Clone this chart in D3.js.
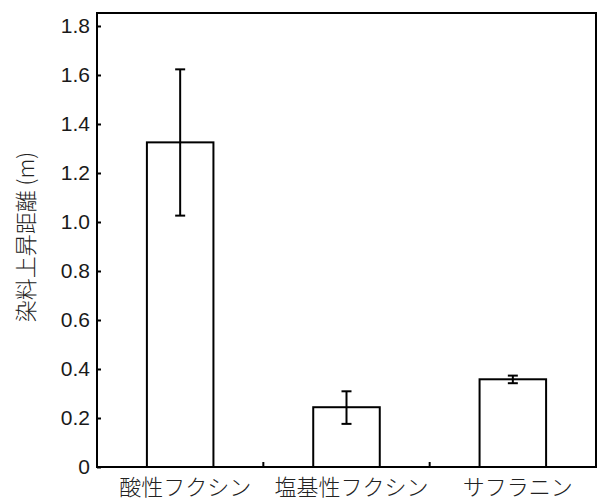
<!DOCTYPE html>
<html><head><meta charset="utf-8">
<script src="https://cdn.jsdelivr.net/npm/d3@7"></script>
<style>body{margin:0;background:#fff}svg{display:block}</style>
</head><body>
<script>
const categories = ["酸性フクシン", "塩基性フクシン", "サフラニン"];
const values = [1.325, 0.244, 0.358];
const errLow = [1.026, 0.176, 0.342];
const errHigh = [1.623, 0.309, 0.373];
const yTicks = [0, 0.2, 0.4, 0.6, 0.8, 1.0, 1.2, 1.4, 1.6, 1.8];
const yTickLabels = ["0", "0.2", "0.4", "0.6", "0.8", "1.0", "1.2", "1.4", "1.6", "1.8"];
const yLabel = "染料上昇距離 (m)";

const W = 601, H = 500;
const m = {left: 97, top: 13, right: 5, bottom: 33};
const svg = d3.select("body").append("svg").attr("width", W).attr("height", H);
const x = d3.scaleBand().domain(categories).range([m.left, W - m.right]).padding(0);
const y = d3.scaleLinear().domain([0, 1.853]).range([H - m.bottom, m.top]);
const bw = x.bandwidth() * 0.4;
const font = "Liberation Sans, Arial, sans-serif";

// bars
svg.selectAll("rect.bar").data(categories).join("rect")
  .attr("x", d => x(d) + x.bandwidth()/2 - bw/2)
  .attr("y", (d,i) => y(values[i]))
  .attr("width", bw)
  .attr("height", (d,i) => y(0) - y(values[i]))
  .attr("fill", "#fff").attr("stroke", "#000").attr("stroke-width", 2);

// error bars
const eb = svg.selectAll("g.err").data(categories).join("g");
eb.append("line")
  .attr("x1", d => x(d) + x.bandwidth()/2).attr("x2", d => x(d) + x.bandwidth()/2)
  .attr("y1", (d,i) => y(errLow[i])).attr("y2", (d,i) => y(errHigh[i]))
  .attr("stroke", "#000").attr("stroke-width", 2);
[errLow, errHigh].forEach(arr => {
  eb.append("line")
    .attr("x1", d => x(d) + x.bandwidth()/2 - 5).attr("x2", d => x(d) + x.bandwidth()/2 + 5)
    .attr("y1", (d,i) => y(arr[i])).attr("y2", (d,i) => y(arr[i]))
    .attr("stroke", "#000").attr("stroke-width", 2);
});

// y axis
const yAxis = d3.axisLeft(y).tickValues(yTicks).tickFormat((d,i) => yTickLabels[i])
  .tickSizeInner(-4).tickSizeOuter(0).tickPadding(7);
const gy = svg.append("g").attr("transform", `translate(${m.left},0)`).call(yAxis);
gy.select(".domain").remove();
gy.selectAll("line").attr("stroke", "#000").attr("stroke-width", 2);
gy.selectAll("text").attr("font-family", font).attr("font-size", 21).attr("fill", "#1a1a1a");

// x axis ticks at band boundaries
const boundaries = categories.slice(1).map(c => x(c));
svg.selectAll("line.xt").data(boundaries).join("line")
  .attr("x1", d => d).attr("x2", d => d)
  .attr("y1", y(0)).attr("y2", y(0) - 5)
  .attr("stroke", "#000").attr("stroke-width", 2);

// frame
svg.append("rect").attr("x", m.left).attr("y", m.top)
  .attr("width", W - m.right - m.left).attr("height", H - m.bottom - m.top)
  .attr("fill", "none").attr("stroke", "#000").attr("stroke-width", 2);

// x labels
svg.selectAll("text.xl").data(categories).join("text")
  .attr("x", d => x(d) + x.bandwidth()/2 + 5)
  .attr("y", H - 5)
  .attr("text-anchor", "middle")
  .attr("font-family", "Noto Sans CJK JP, sans-serif").attr("font-size", 22)
  .attr("font-weight", 300)
  .attr("fill", "#222").text(d => d);

// y label
svg.append("text")
  .attr("transform", `translate(34,237) rotate(-90)`)
  .attr("text-anchor", "middle")
  .attr("font-family", "Noto Sans CJK JP, sans-serif").attr("font-size", 22)
  .attr("font-weight", 300)
  .attr("fill", "#222").text(yLabel);
</script>
</body></html>
